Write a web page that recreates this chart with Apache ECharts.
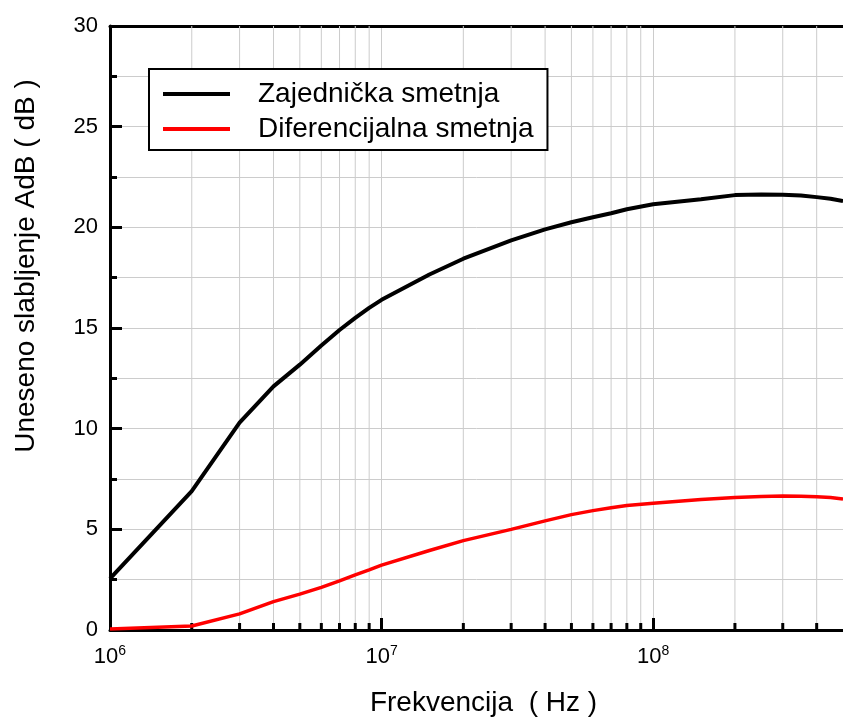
<!DOCTYPE html>
<html>
<head>
<meta charset="utf-8">
<script src="https://cdn.jsdelivr.net/npm/echarts@6/dist/echarts.min.js"></script>
<style>html,body{margin:0;padding:0;background:#fff}#c{width:843px;height:717px}</style>
</head>
<body>
<div id="c"></div>
<script>
var freqs = [1e6, 2e6, 3e6, 4e6, 5e6, 6e6, 7e6, 8e6, 9e6, 1e7, 1.5e7, 2e7, 3e7, 4e7, 5e7, 6e7, 7e7, 8e7, 1e8, 1.5e8, 2e8, 2.5e8, 3e8, 3.5e8, 4e8, 4.5e8, 5e8];
var zajednicka = [2.55, 6.9, 10.3, 12.1, 13.18, 14.13, 14.9, 15.5, 16.0, 16.4, 17.66, 18.44, 19.35, 19.9, 20.25, 20.5, 20.7, 20.9, 21.15, 21.4, 21.6, 21.63, 21.62, 21.58, 21.5, 21.42, 21.3];
var diferencijalna = [0.05, 0.2, 0.8, 1.41, 1.78, 2.12, 2.44, 2.74, 2.99, 3.22, 3.95, 4.44, 5.0, 5.42, 5.73, 5.93, 6.07, 6.18, 6.3, 6.48, 6.58, 6.63, 6.65, 6.64, 6.62, 6.58, 6.5];
var minorTickValues = [2e6, 3e6, 4e6, 5e6, 6e6, 7e6, 8e6, 9e6, 2e7, 3e7, 4e7, 5e7, 6e7, 7e7, 8e7, 9e7, 2e8, 3e8, 4e8];
var seriesNames = ['Zajednička smetnja', 'Diferencijalna smetnja'];
var xName = 'Frekvencija  ( Hz )';
var yName = 'Uneseno slabljenje AdB ( dB )';

var FONT = 'Liberation Sans, Arial, sans-serif';
function zip(xs, ys) { return xs.map(function (x, i) { return [x, ys[i]]; }); }

var chart = echarts.init(document.getElementById('c'));
chart.setOption({
  animation: false,
  backgroundColor: '#fff',
  grid: { left: 110, right: 0, top: 26, bottom: 87, containLabel: false, outerBoundsMode: 'none' },
  legend: {
    orient: 'vertical',
    left: 149, top: 69,
    padding: [11, 14, 7, 14],
    itemGap: 7,
    itemWidth: 67, itemHeight: 4,
    backgroundColor: '#fff',
    borderColor: '#000', borderWidth: 2,
    textStyle: { fontFamily: FONT, fontSize: 28, color: '#000', lineHeight: 28, padding: [0, 0, 0, 23] },
    data: [
      { name: seriesNames[0], icon: 'rect', itemStyle: { color: '#000' } },
      { name: seriesNames[1], icon: 'rect', itemStyle: { color: '#ff0000' } }
    ]
  },
  xAxis: [{
    type: 'log', logBase: 10, min: 1e6, max: 5e8,
    name: xName, nameLocation: 'middle', nameGap: 59,
    nameTextStyle: { fontFamily: FONT, fontSize: 28, color: '#000', padding: [0, 0, 0, 14] },
    axisLine: { lineStyle: { color: '#000', width: 3 } },
    axisTick: { inside: true, length: 12, lineStyle: { color: '#000', width: 3 } },
    splitLine: { show: true, lineStyle: { color: '#cccccc', width: 1 } },
    axisLabel: {
      margin: 14, color: '#000', fontFamily: FONT, showMaxLabel: false,
      formatter: function (v) {
        var e = Math.log10(v);
        var r = Math.round(e);
        if (Math.abs(e - r) > 1e-6) return '';
        return '{b|10}{e|' + r + '}';
      },
      rich: {
        b: { fontSize: 22, fontFamily: FONT, color: '#000' },
        e: { fontSize: 14, fontFamily: FONT, color: '#000', padding: [0, 0, 12, 0] }
      }
    }
  }, {
    type: 'log', logBase: 10, min: 1e6, max: 5e8, position: 'top',
    axisLine: { show: true, lineStyle: { color: '#000', width: 3 } },
    axisTick: { show: false }, axisLabel: { show: false }, splitLine: { show: false }
  }],
  yAxis: {
    type: 'value', min: 0, max: 30, interval: 5,
    name: yName, nameLocation: 'middle', nameGap: 70, nameRotate: 90,
    nameTextStyle: { fontFamily: FONT, fontSize: 28, color: '#000', padding: [0, 0, 0, 124] },
    axisLine: { show: true, lineStyle: { color: '#000', width: 3 } },
    axisTick: { inside: true, length: 12, lineStyle: { color: '#000', width: 3 } },
    minorTick: { show: true, splitNumber: 2, length: 7, lineStyle: { color: '#000', width: 3 } },
    splitLine: { show: true, lineStyle: { color: '#cccccc', width: 1 } },
    minorSplitLine: { show: true, lineStyle: { color: '#cccccc', width: 1 } },
    axisLabel: { margin: 12, color: '#000', fontFamily: FONT, fontSize: 22 }
  },
  series: [
    {
      type: 'custom', name: 'minor', silent: true, z: 1,
      data: minorTickValues.map(function (v) { return [v]; }),
      renderItem: function (params, api) {
        var top = api.coord([api.value(0), 30]);
        var bot = api.coord([api.value(0), 0]);
        return {
          type: 'group',
          children: [
            { type: 'line', shape: { x1: bot[0], y1: bot[1], x2: top[0], y2: top[1] }, style: { stroke: '#cccccc', lineWidth: 1 } },
            { type: 'line', shape: { x1: bot[0], y1: bot[1], x2: bot[0], y2: bot[1] - 7 }, style: { stroke: '#000', lineWidth: 3 } }
          ]
        };
      }
    },
    {
      type: 'line', name: seriesNames[0], data: zip(freqs, zajednicka),
      showSymbol: false, z: 3,
      lineStyle: { color: '#000', width: 4 }, itemStyle: { color: '#000' }
    },
    {
      type: 'line', name: seriesNames[1], data: zip(freqs, diferencijalna),
      showSymbol: false, z: 3,
      lineStyle: { color: '#ff0000', width: 3.5 }, itemStyle: { color: '#ff0000' }
    }
  ]
});
</script>
</body>
</html>
